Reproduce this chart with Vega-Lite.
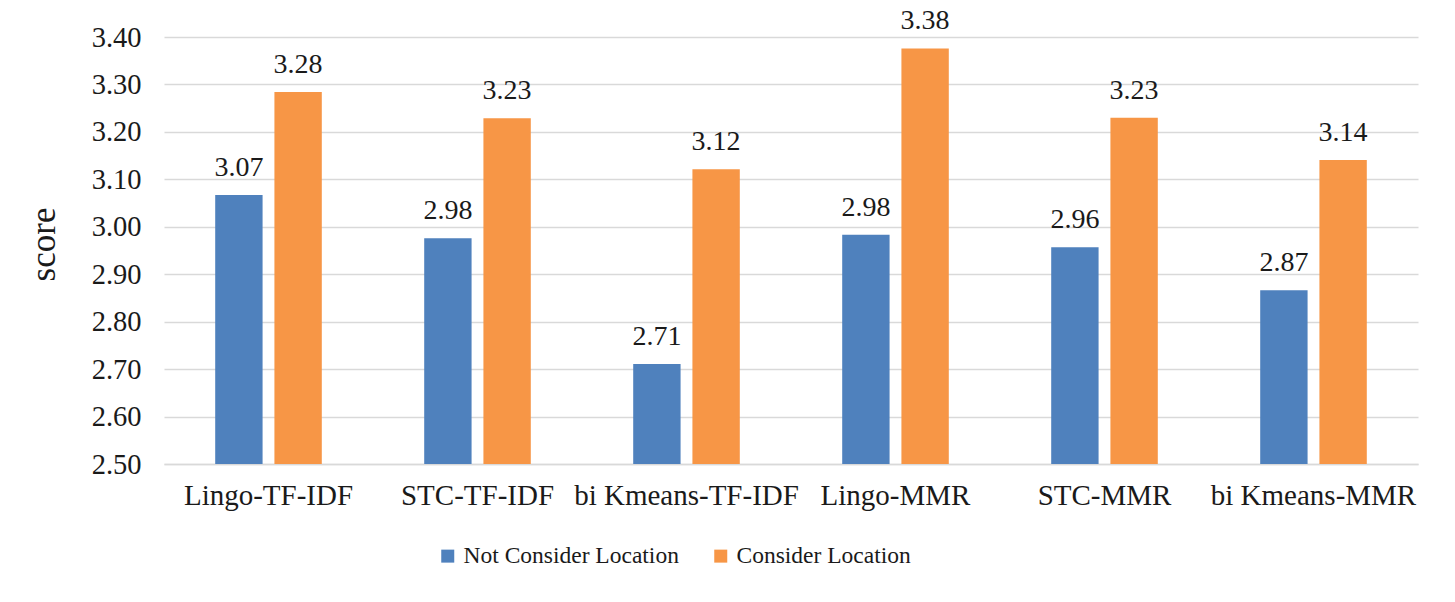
{
  "$schema": "https://vega.github.io/schema/vega-lite/v6.json",
  "width": 1254,
  "height": 427,
  "autosize": {"type": "none"},
  "padding": {"left": 164, "top": 37, "right": 37, "bottom": 138},
  "background": "white",
  "config": {
    "font": "Liberation Serif",
    "view": {"stroke": null}
  },
  "data": {
    "values": [
      {"method": "Lingo-TF-IDF", "series": "Not Consider Location", "score": 3.067},
      {"method": "Lingo-TF-IDF", "series": "Consider Location", "score": 3.284},
      {"method": "STC-TF-IDF", "series": "Not Consider Location", "score": 2.976},
      {"method": "STC-TF-IDF", "series": "Consider Location", "score": 3.229},
      {"method": "bi Kmeans-TF-IDF", "series": "Not Consider Location", "score": 2.711},
      {"method": "bi Kmeans-TF-IDF", "series": "Consider Location", "score": 3.121},
      {"method": "Lingo-MMR", "series": "Not Consider Location", "score": 2.983},
      {"method": "Lingo-MMR", "series": "Consider Location", "score": 3.376},
      {"method": "STC-MMR", "series": "Not Consider Location", "score": 2.957},
      {"method": "STC-MMR", "series": "Consider Location", "score": 3.230},
      {"method": "bi Kmeans-MMR", "series": "Not Consider Location", "score": 2.866},
      {"method": "bi Kmeans-MMR", "series": "Consider Location", "score": 3.141}
    ]
  },
  "encoding": {
    "x": {
      "field": "method",
      "type": "nominal",
      "sort": ["Lingo-TF-IDF", "STC-TF-IDF", "bi Kmeans-TF-IDF", "Lingo-MMR", "STC-MMR", "bi Kmeans-MMR"],
      "scale": {"paddingInner": 0.49, "paddingOuter": 0.245},
      "axis": {
        "title": null,
        "labelFont": "Liberation Serif",
        "labelColor": "#1a1a1a",
        "labelAngle": 0,
        "labelFontSize": 29,
        "labelLimit": 0,
        "labelBaseline": "alphabetic",
        "labelPadding": 40,
        "labelDx": 8,
        "ticks": false,
        "tickSize": 0,
        "domain": true,
        "domainColor": "#d9d9d9",
        "domainWidth": 1.5,
        "grid": false
      }
    },
    "xOffset": {
      "field": "series",
      "type": "nominal",
      "sort": ["Not Consider Location", "Consider Location"],
      "scale": {"paddingInner": 0.2, "paddingOuter": 0}
    },
    "y": {
      "field": "score",
      "type": "quantitative",
      "scale": {"domain": [2.5, 3.4], "zero": false, "nice": false},
      "axis": {
        "title": "score",
        "titleFont": "Liberation Serif",
        "titleColor": "#1a1a1a",
        "titleFontSize": 35,
        "titleFontWeight": "normal",
        "titlePadding": 30,
        "titleY": 207,
        "values": [2.5, 2.6, 2.7, 2.8, 2.9, 3.0, 3.1, 3.2, 3.3, 3.4],
        "format": ".2f",
        "labelFont": "Liberation Serif",
        "labelColor": "#1a1a1a",
        "labelFontSize": 28.5,
        "labelPadding": 23,
        "ticks": false,
        "tickSize": 0,
        "domain": false,
        "grid": true,
        "gridColor": "#d9d9d9",
        "gridWidth": 1.5
      }
    }
  },
  "layer": [
    {
      "mark": {"type": "bar"},
      "encoding": {
        "y2": {"datum": 2.5},
        "color": {
          "field": "series",
          "type": "nominal",
          "sort": ["Not Consider Location", "Consider Location"],
          "scale": {"domain": ["Not Consider Location", "Consider Location"], "range": ["#4f81bd", "#f79646"]},
          "legend": {
            "title": null,
            "orient": "none",
            "direction": "horizontal",
            "legendX": 272,
            "legendY": 507,
            "labelFont": "Liberation Serif",
            "labelColor": "#1a1a1a",
            "symbolType": "square",
            "symbolSize": 169,
            "symbolStrokeWidth": 0,
            "labelFontSize": 23.5,
            "labelLimit": 0,
            "labelOffset": 4,
            "columnPadding": 30
          }
        }
      }
    },
    {
      "mark": {"type": "text", "baseline": "alphabetic", "dy": -19, "fontSize": 28, "color": "#1a1a1a", "font": "Liberation Serif"},
      "encoding": {
        "text": {"field": "score", "type": "quantitative", "format": ".2f"}
      }
    }
  ]
}
